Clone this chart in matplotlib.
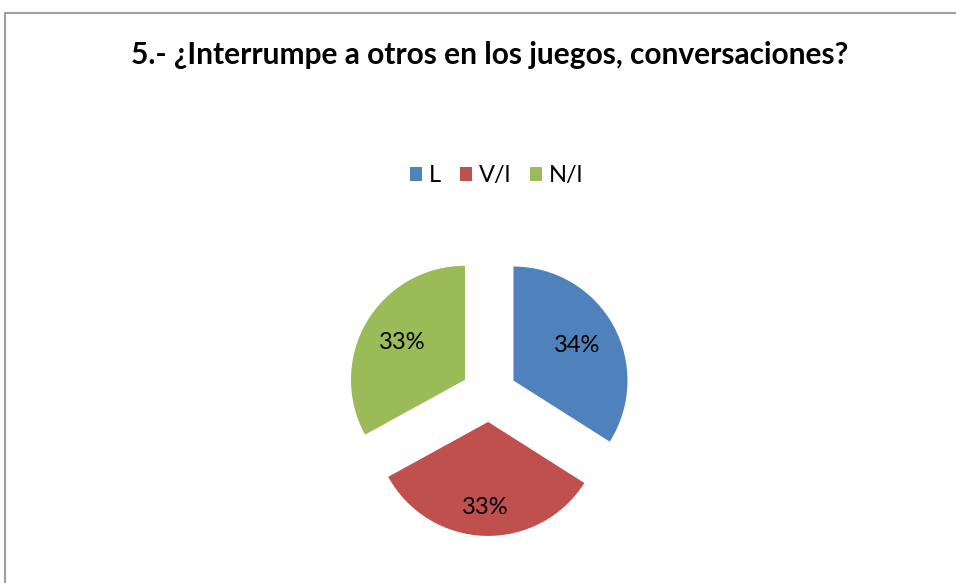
import matplotlib
matplotlib.use("Agg")
import matplotlib.pyplot as plt
import numpy as np
from matplotlib.patches import Rectangle

plt.rcParams['font.family'] = ['Lato', 'DejaVu Sans']

title = "5.- ¿Interrumpe a otros en los juegos, conversaciones?"
categories = ["L", "V/l", "N/l"]
values = [34, 33, 33]
colors = ["#4F81BD", "#C0504D", "#9BBB59"]
label_dist = [0.64, 0.75, 0.64]

W, H = 956, 583
R = 114
fig = plt.figure(figsize=(W / 100, H / 100), dpi=100)
ax = fig.add_axes([0, 0, 1, 1])

wedges, texts, autotexts = ax.pie(
    values, colors=colors, startangle=90, counterclock=False,
    explode=[0.245 * R] * 3, radius=R, center=(489, H - 394),
    autopct=lambda p: f"{p:.0f}%", pctdistance=0.64,
    textprops=dict(fontsize=17, color='black'))
for w, t, d in zip(wedges, autotexts, label_dist):
    th = np.deg2rad((w.theta1 + w.theta2) / 2)
    cx, cy = w.center
    t.set_position((cx + d * w.r * np.cos(th), cy + d * w.r * np.sin(th)))
ax.set_xlim(0, W)
ax.set_ylim(0, H)
ax.set_aspect('equal')
ax.axis('off')

fig.text(490 / W, 1 - 55 / H, title, ha='center', va='center',
         fontsize=21.5, fontweight='bold')

leg = fig.legend(wedges, categories, loc='center', bbox_to_anchor=(497 / W, 1 - 176 / H),
                 ncol=3, frameon=False, fontsize=17, handlelength=0.5, handleheight=0.5,
                 handletextpad=0.3, columnspacing=0.8)

fig.patches.append(Rectangle((5 / W, -0.1), 1.2, 1 - 13 / H + 0.1, transform=fig.transFigure,
                             fill=False, edgecolor='#a0a0a0', linewidth=1.5))

fig.savefig("out.png", dpi=100)
